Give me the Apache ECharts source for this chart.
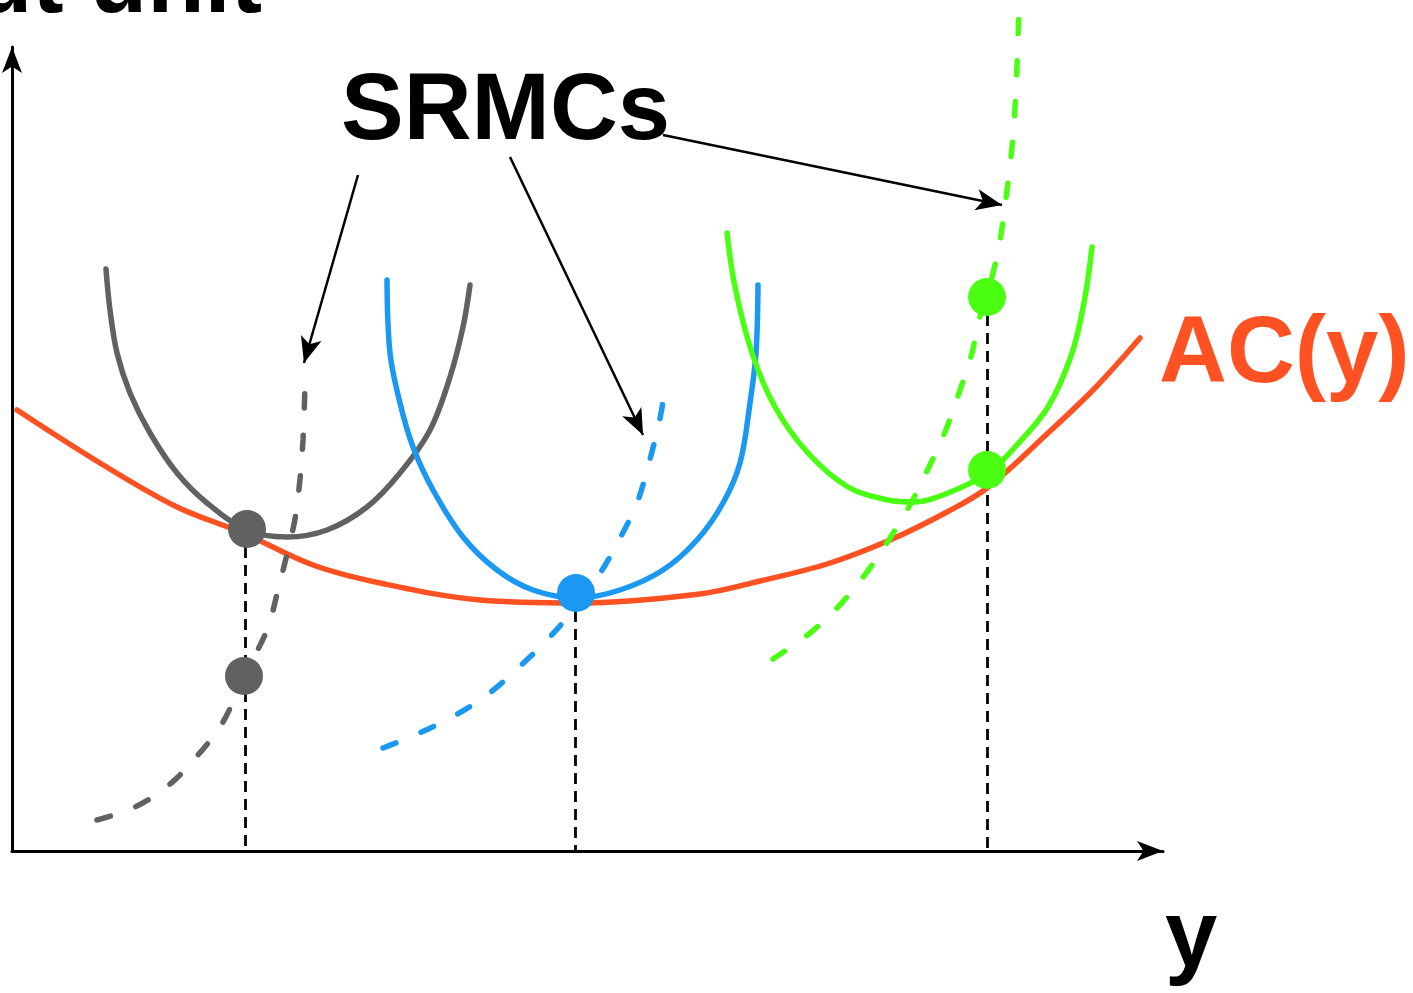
<!DOCTYPE html>
<html>
<head>
<meta charset="utf-8">
<script src="https://cdn.jsdelivr.net/npm/echarts@6/dist/echarts.min.js"></script>
<style>
  html, body { margin: 0; padding: 0; background: #fff; }
  #chart { width: 1413px; height: 993px; }
</style>
</head>
<body>
<div id="chart"></div>
<script>
// curves, [output y, cost]
const acCurve = [[5,441],[88,388],[165,344],[231,318],[301,286],[368,268],[468,251],[565,248],[688,257],[748,270],[815,287],[878,311],[935,339],[975,363],[1036,418],[1083,463],[1128,513]];
const sac1 = [[94,582],[98,541],[105,498],[118,458],[138,418],[165,378],[195,348],[235,321],[275,314],[315,321],[355,344],[388,378],[418,421],[438,474],[451,524],[458,566]];
const mc1 = [[85,31],[123,44],[157,66],[186,96],[211,129],[232,175],[255,221],[266,261],[276,301],[283,332],[288,372],[291,411],[293,466]];
const sac2 = [[375,571],[378,498],[388,448],[401,404],[421,361],[451,314],[485,281],[521,261],[565,253],[608,261],[651,281],[685,311],[711,348],[728,388],[738,448],[744,498],[746,566]];
const mc2 = [[371,103],[403,116],[440,134],[475,156],[506,183],[535,211],[563,243],[587,276],[607,311],[625,348],[637,388],[647,428],[651,449]];
const sac3 = [[715,618],[723,564],[740,498],[763,444],[796,398],[836,364],[876,351],[903,349],[936,358],[976,378],[1003,404],[1036,444],[1060,498],[1073,554],[1080,604]];
const mc3 = [[761,192],[798,218],[826,244],[855,279],[878,313],[898,346],[916,382],[933,419],[947,458],[960,498],[966,528],[975,554],[981,578],[986,599],[991,630],[996,669],[1000,704],[1003,743],[1005,786],[1007,842]];

const grayDots = [[235,322],[232,175]];
const blueDots = [[564,258]];
const greenDots = [[975,554],[975,381]];

// vertical drop lines: [x, top]
const dropLines = [[233,322],[563,258],[975,554]];

// annotation arrows from the SRMCs label
const pointerFrom = [[346,676],[498,694],[651,716]];
const pointerTo = [[292,488],[631,416],[990,646]];

const orange = '#ff5122';
const gray = '#616161';
const blue = '#1b98f1';
const green = '#4bff12';

const chart = echarts.init(document.getElementById('chart'));

function curve(data, color, dashed) {
    return {
        type: 'line',
        data: data,
        smooth: 0.35,
        symbol: 'none',
        clip: false,
        silent: true,
        lineStyle: {
            color: color,
            width: 5.5,
            type: dashed ? [14, 27] : 'solid',
            cap: 'round'
        }
    };
}

function dots(data, color) {
    return {
        type: 'scatter',
        data: data,
        symbolSize: 38,
        itemStyle: { color: color, opacity: 1 },
        z: 10
    };
}

const font = "'Liberation Sans', Arial, sans-serif";

const option = {
    animation: false,
    grid: { left: 12, right: 250, top: 47, bottom: 142 },
    xAxis: {
        type: 'value',
        min: 0,
        max: 1151,
        axisLine: {
            onZero: false,
            symbol: ['none', 'arrow'],
            symbolSize: [15, 26],
            lineStyle: { color: '#000', width: 3 }
        },
        axisTick: { show: false },
        axisLabel: { show: false },
        splitLine: { show: false }
    },
    yAxis: {
        type: 'value',
        min: 0,
        max: 804,
        axisLine: {
            show: true,
            onZero: false,
            symbol: ['none', 'arrow'],
            symbolSize: [15, 26],
            lineStyle: { color: '#000', width: 3 }
        },
        axisTick: { show: false },
        axisLabel: { show: false },
        splitLine: { show: false }
    },
    series: [
        {
            type: 'lines',
            coordinateSystem: 'cartesian2d',
            data: dropLines.map(d => ({ coords: [[d[0], d[1]], [d[0], 0]] })),
            lineStyle: { color: '#000', width: 2.8, type: [11, 7], opacity: 1 },
            z: 1
        },
        curve(acCurve, orange, false),
        curve(sac1, gray, false),
        curve(mc1, gray, true),
        curve(sac2, blue, false),
        curve(mc2, blue, true),
        curve(sac3, green, false),
        curve(mc3, green, true),
        {
            type: 'lines',
            coordinateSystem: 'cartesian2d',
            data: pointerFrom.map((p, i) => ({ coords: [p, pointerTo[i]] })),
            symbol: ['none', 'arrow'],
            symbolSize: [10, [16, 26]],
            lineStyle: { color: '#000', width: 2.5, opacity: 1 },
            z: 5
        },
        dots(grayDots, gray),
        dots(blueDots, blue),
        dots(greenDots, green)
    ],
    graphic: [
        {
            type: 'text', x: 262, y: -14,
            style: { text: 'Cost per output unit', font: 'bold 94px ' + font, fill: '#000', textAlign: 'right', textVerticalAlign: 'middle' }
        },
        {
            type: 'text', x: 341, y: 113,
            style: { text: 'SRMCs', font: 'bold 94px ' + font, fill: '#000', textAlign: 'left', textVerticalAlign: 'middle' }
        },
        {
            type: 'text', x: 1159, y: 356,
            style: { text: 'AC(y)', font: 'bold 94px ' + font, fill: orange, textAlign: 'left', textVerticalAlign: 'middle' }
        },
        {
            type: 'text', x: 1165, y: 940,
            style: { text: 'y', font: 'bold 94px ' + font, fill: '#000', textAlign: 'left', textVerticalAlign: 'middle' }
        }
    ]
};

chart.setOption(option);
</script>
</body>
</html>
